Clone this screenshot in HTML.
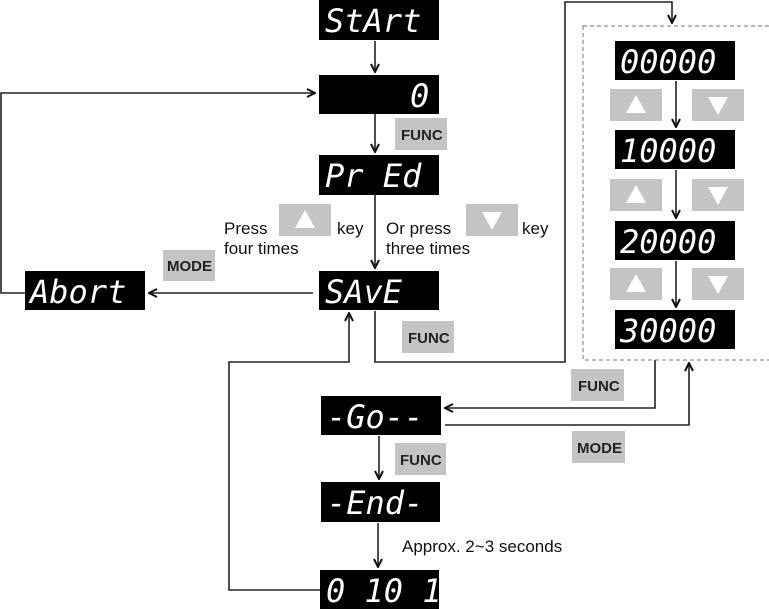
<!DOCTYPE html>
<html><head><meta charset="utf-8"><style>
html,body{margin:0;padding:0;background:#fff;width:769px;height:609px;overflow:hidden}
.d{font-family:"DejaVu Sans Mono","Liberation Mono",monospace;font-size:32px;fill:#fff;font-style:italic}
.k{font-family:"Liberation Sans",sans-serif;font-weight:bold;font-size:15px;fill:#222}
.t{font-family:"Liberation Sans",sans-serif;font-size:17px;fill:#111}
</style></head><body>
<svg width="769" height="609" viewBox="0 0 769 609" xmlns="http://www.w3.org/2000/svg">
<defs><marker id="a" markerWidth="10" markerHeight="10" refX="9" refY="5" orient="auto" markerUnits="userSpaceOnUse"><path d="M1,1 L9,5 L1,9" fill="none" stroke="#111" stroke-width="2"/></marker></defs>
<g stroke="#222" stroke-width="1.6" fill="none">
<line x1="375" y1="41" x2="375" y2="72" marker-end="url(#a)"/>
<line x1="375" y1="114" x2="375" y2="152" marker-end="url(#a)"/>
<line x1="375" y1="195" x2="375" y2="268" marker-end="url(#a)"/>
<line x1="313" y1="293" x2="149" y2="293" marker-end="url(#a)"/>
<polyline points="25,293 1,293 1,93 315,93" marker-end="url(#a)"/>
<polyline points="375,311 375,362 565,362 565,2 672,2 672,23" marker-end="url(#a)"/>
<polyline points="320,590 229,590 229,362 349,362 349,313" marker-end="url(#a)"/>
<polyline points="655,360 655,408 445,408" marker-end="url(#a)"/>
<polyline points="445,425 689,425 689,363" marker-end="url(#a)"/>
<line x1="379" y1="436" x2="379" y2="479" marker-end="url(#a)"/>
<line x1="378" y1="523" x2="378" y2="567" marker-end="url(#a)"/>
<line x1="676" y1="81" x2="676" y2="127" marker-end="url(#a)"/>
<line x1="676" y1="170" x2="676" y2="218" marker-end="url(#a)"/>
<line x1="676" y1="261" x2="676" y2="307" marker-end="url(#a)"/>
<rect x="583" y="26" width="200" height="334" stroke="#777" stroke-width="1" stroke-dasharray="4,3"/>
</g>
<g fill="#000">
<rect x="319" y="0" width="120" height="40"/>
<rect x="319" y="75" width="120" height="39"/>
<rect x="319" y="155" width="120" height="40"/>
<rect x="319" y="271" width="120" height="39"/>
<rect x="25" y="271" width="120" height="39"/>
<rect x="321" y="396" width="120" height="39"/>
<rect x="321" y="482" width="119" height="40"/>
<rect x="320" y="570" width="119" height="39"/>
<rect x="615" y="41" width="120" height="39"/>
<rect x="615" y="130" width="120" height="39"/>
<rect x="615" y="221" width="120" height="39"/>
<rect x="615" y="310" width="120" height="39"/>
</g>
<g class="d">
<text x="325" y="32">StArt</text>
<text x="410" y="107">0</text>
<text x="325" y="187">Pr Ed</text>
<text x="325" y="303">SAvE</text>
<text x="30" y="303">Abort</text>
<text x="327" y="428">-Go--</text>
<text x="327" y="514">-End-</text>
<text x="326" y="602">0 10 12</text>
<text x="620" y="73">00000</text>
<text x="620" y="162">10000</text>
<text x="620" y="253">20000</text>
<text x="620" y="342">30000</text>
</g>
<g fill="#c4c4c4">
<rect x="395" y="118" width="52" height="32"/>
<rect x="402" y="321" width="52" height="32"/>
<rect x="571" y="369" width="53" height="32"/>
<rect x="572" y="431" width="53" height="32"/>
<rect x="395" y="443" width="51" height="32"/>
<rect x="163" y="250" width="52" height="31"/>
<rect x="279" y="204" width="52" height="32"/>
<rect x="466" y="204" width="52" height="32"/>
<rect x="610" y="89" width="52" height="32"/><rect x="692" y="89" width="52" height="32"/>
<rect x="610" y="179" width="52" height="32"/><rect x="692" y="179" width="52" height="32"/>
<rect x="610" y="268" width="52" height="32"/><rect x="692" y="268" width="52" height="32"/>
</g>
<g fill="#fff">
<path d="M305,210 L295,228 L315,228Z"/><path d="M482,212 L502,212 L492,230Z"/>
<path d="M636,95 L626,113 L646,113Z"/><path d="M708,97 L728,97 L718,115Z"/>
<path d="M636,185 L626,203 L646,203Z"/><path d="M708,187 L728,187 L718,205Z"/>
<path d="M636,274 L626,292 L646,292Z"/><path d="M708,276 L728,276 L718,294Z"/>
</g>
<g class="k">
<text x="401" y="140">FUNC</text>
<text x="408" y="343">FUNC</text>
<text x="578" y="391">FUNC</text>
<text x="577" y="453">MODE</text>
<text x="400" y="465">FUNC</text>
<text x="167" y="271">MODE</text>
</g>
<g class="t">
<text x="224" y="234">Press</text>
<text x="224" y="254">four times</text>
<text x="337" y="234">key</text>
<text x="386" y="234">Or press</text>
<text x="386" y="254">three times</text>
<text x="522" y="234">key</text>
<text x="402" y="552">Approx. 2~3 seconds</text>
</g>
</svg>
</body></html>
